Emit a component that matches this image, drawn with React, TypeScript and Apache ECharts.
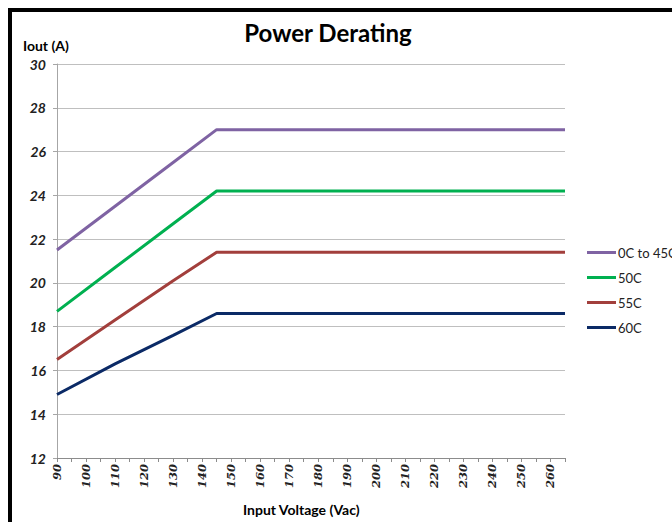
import React, { useEffect, useRef } from "react";
import * as echarts from "echarts";

const categories: string[] = [];
for (let v = 90; v <= 265; v += 5) categories.push(String(v));

// values read at these input voltages; others left empty and connected
const readVoltages = [90, 110, 130, 145, 265];
const s0to45 = [21.5, 23.5, 25.5, 27.0, 27.0];
const s50 = [18.7, 20.7, 22.7, 24.2, 24.2];
const s55 = [16.5, 18.3, 20.1, 21.4, 21.4];
const s60 = [14.9, 16.3, 17.6, 18.6, 18.6];

const seriesNames = ["0C to 45C", "50C", "55C", "60C"];
const seriesColors = ["#7f63a3", "#00b050", "#a23f3c", "#0b2a66"];
const seriesValues = [s0to45, s50, s55, s60];

function toCategoryData(vals: number[]) {
  return categories.map((c) => {
    const i = readVoltages.indexOf(Number(c));
    return i >= 0 ? vals[i] : null;
  });
}

export default function App() {
  const ref = useRef<HTMLDivElement>(null);
  useEffect(() => {
    document.body.style.margin = "0";
    const chart = echarts.init(ref.current!, null, { renderer: "svg" });
    const font = "Lato, 'Open Sans', sans-serif";
    chart.setOption({
      animation: false,
      backgroundColor: "#ffffff",
      title: {
        text: "Power Derating",
        left: 323,
        textAlign: "center",
        top: 15,
        textStyle: { fontFamily: font, fontSize: 24, fontWeight: "bold", color: "#000" },
      },
      graphic: [
        {
          type: "rect",
          shape: { x: 10, y: 10, width: 720, height: 600 },
          style: { fill: "none", stroke: "#000", lineWidth: 4 },
          silent: true,
        },
        {
          type: "text",
          left: 23,
          top: 38,
          style: { text: "Iout (A)", font: `bold 14px ${font}`, fill: "#000" },
        },
        {
          type: "text",
          left: 243,
          top: 502,
          style: { text: "Input Voltage (Vac)", font: `bold 14px ${font}`, fill: "#000" },
        },
      ],
      legend: {
        orient: "vertical",
        left: 582,
        top: 241,
        itemWidth: 29,
        itemHeight: 3,
        itemGap: 12,
        icon: "rect",
        textStyle: { fontFamily: font, fontSize: 13, color: "#222", padding: [0, 0, 0, -3] },
        data: seriesNames,
      },
      grid: { left: 57, right: 107, top: 64, bottom: 64, containLabel: false },
      xAxis: {
        type: "category",
        data: categories,
        boundaryGap: false,
        axisLine: { lineStyle: { color: "#8c8c8c", width: 1 } },
        axisTick: { show: true, interval: 0, length: 4, lineStyle: { color: "#8c8c8c" } },
        axisLabel: {
          interval: 1,
          rotate: 90,
          margin: 6,
          fontFamily: "'DejaVu Serif', serif",
          fontStyle: "italic",
          fontWeight: "bold",
          fontSize: 11.5,
          color: "#222",
        },
        splitLine: { show: false },
      },
      yAxis: {
        type: "value",
        min: 12,
        max: 30,
        interval: 2,
        axisLine: { show: true, lineStyle: { color: "#a6a6a6", width: 1 } },
        axisTick: { show: true, length: 4, lineStyle: { color: "#a6a6a6" } },
        axisLabel: {
          margin: 11,
          fontFamily: font,
          fontStyle: "italic",
          fontWeight: "bold",
          fontSize: 14,
          color: "#222",
        },
        splitLine: { lineStyle: { color: "#bfbfbf", width: 1 } },
      },
      series: seriesNames.map((name, i) => ({
        name,
        type: "line",
        data: toCategoryData(seriesValues[i]),
        connectNulls: true,
        showSymbol: false,
        symbol: "none",
        lineStyle: { color: seriesColors[i], width: 3 },
        itemStyle: { color: seriesColors[i] },
      })),
    });
    return () => chart.dispose();
  }, []);
  return (
    <div
      ref={ref}
      style={{ position: "fixed", left: 0, top: 0, width: 672, height: 522 }}
    />
  );
}
